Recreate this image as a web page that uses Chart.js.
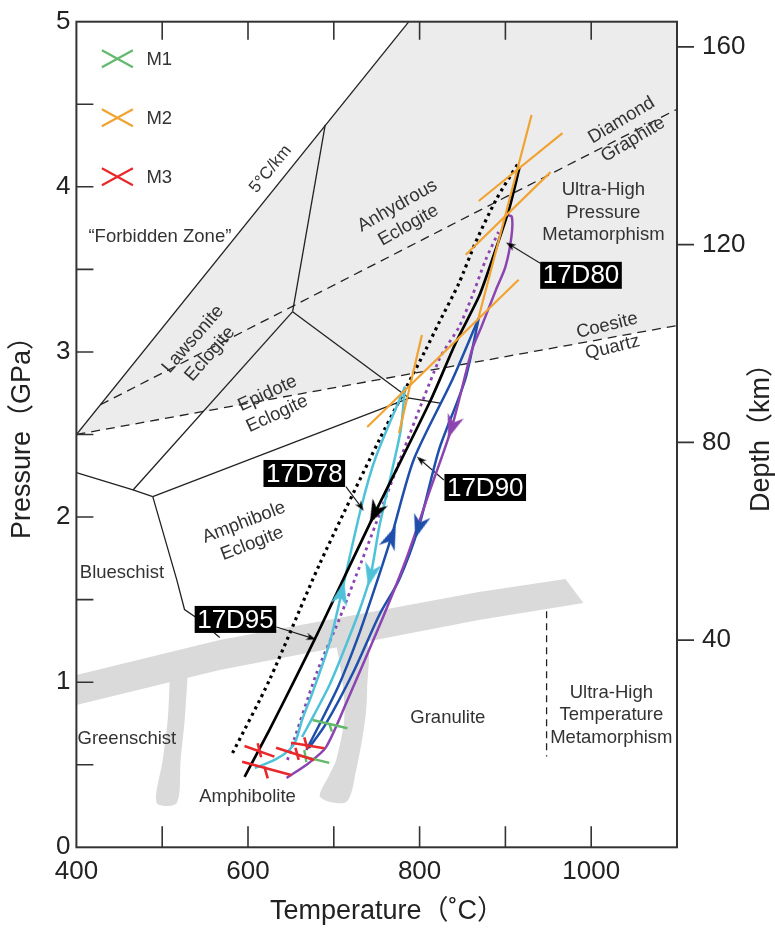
<!DOCTYPE html>
<html>
<head>
<meta charset="utf-8">
<script src="https://cdn.jsdelivr.net/npm/chart.js@4.4.1/dist/chart.umd.min.js"></script>
<style>
  html, body { margin: 0; padding: 0; background: #fff; }
  #wrap { width: 775px; height: 930px; }
</style>
</head>
<body>
<div id="wrap"><canvas id="ptChart"></canvas></div>
<script>
// ---- axes ----
const tempTicks = [400, 500, 600, 700, 800, 900, 1000, 1100];
const tempLabels = [400, 600, 800, 1000];
const pressTicks = [0, 0.5, 1, 1.5, 2, 2.5, 3, 3.5, 4, 4.5, 5];
const depthTicks = [40, 80, 120, 160];

// ---- facies grid, points are [T °C, P GPa] ----
const uhpField = [[400, 2.5], [787.5, 5], [1100, 5], [1100, 3.16]];
const grayBand = [[400, 1.044], [567, 1.256], [869, 1.546], [970, 1.625], [991, 1.48], [869, 1.377], [567, 1.074], [400, 0.862]];
const leftStem = [[509, 1.04], [506.4, 0.771], [500.6, 0.529], [493.6, 0.268], [516.9, 0.268], [521.5, 0.529], [526.2, 0.771], [529.7, 1.04]];
const rightStem = [[702.8, 1.225], [737.7, 1.256], [738.9, 0.953], [736.5, 0.771], [726.1, 0.468], [714.5, 0.274], [684.2, 0.305], [694.7, 0.438], [702.8, 0.529], [712.1, 0.771], [711, 0.953], [706.3, 1.134]];

const fivePerKm = [[400, 2.5], [787.5, 5]];
const diamondGraphite = [[428, 2.68], [1100, 4.47]];
const coesiteQuartz = [[400, 2.5], [1100, 3.16]];
const uhtBoundary = [[948, 1.43], [948, 0.55]];
const faciesLines = [
  [[690, 4.375], [652, 3.244]],
  [[652, 3.244], [466, 2.164]],
  [[400, 2.269], [466, 2.164], [489, 2.124]],
  [[489, 2.124], [788, 2.72]],
  [[652, 3.244], [788, 2.72]],
  [[788, 2.72], [824, 2.69]],
  [[489, 2.124], [517, 1.62], [526, 1.44], [540, 1.39], [567, 1.27]],
];

// ---- P-T paths ----
const blackPath = [[596, 0.426], [625, 0.711], [656, 1.031], [683, 1.316], [748, 2.025], [813, 2.709], [842, 3.054], [869, 3.334], [880.5, 3.497], [904, 3.86], [916.6, 4.12]];
const blackDotted = [[582, 0.571], [625, 1.013], [683, 1.71], [753, 2.467], [807, 3.012], [822.5, 3.176], [846, 3.418], [865, 3.661], [889, 3.92], [915, 4.144]];
const purplePath = [[645, 0.42], [671, 0.511], [691, 0.607], [714.5, 0.874], [756, 1.377], [784, 1.74], [811, 2.146], [837.6, 2.545], [861, 3.012], [872, 3.152], [889, 3.376], [900, 3.515], [907, 3.697], [907.5, 3.818], [901.5, 3.83]];
const purpleDotted = [[646, 0.529], [680, 1.056], [706, 1.377], [733, 1.74], [822.5, 2.951], [846, 3.152], [861, 3.334], [877, 3.558], [892, 3.727]];
const bluePro = [[668, 0.589], [683, 0.741], [706, 0.983], [727, 1.256], [747, 1.558], [767, 1.879], [793, 2.346], [838, 2.83], [869, 3.206]];
const blueRetro = [[869, 3.206], [853, 2.83], [822.5, 2.406], [799, 1.94], [776, 1.619], [753, 1.407], [724, 1.074], [690, 0.741], [671, 0.601]];
const cyanPro = [[608, 0.48], [631, 0.529], [648, 0.589], [656, 0.65], [663, 0.771], [675, 0.934], [695, 1.237], [709, 1.54], [732, 2.061], [749, 2.364], [783, 2.79]];
const cyanRetro = [[783, 2.79], [778, 2.527], [768, 2.285], [753, 1.94], [743, 1.649], [730, 1.437], [712, 1.195], [695, 0.983], [677, 0.802], [663, 0.668]];

// arrow heads on the paths
const arrowT = [748, 837.6, 767, 799, 709, 743];
const arrowP = [2.025, 2.545, 1.879, 1.94, 1.54, 1.649];

// metamorphic stage estimates (each entry one stroke)
const m1Lines = [
  [[675.3, 0.771], [715.9, 0.721]], [[694.7, 0.751], [697.8, 0.7]],
  [[657.5, 0.559], [694.7, 0.511]], [[665.6, 0.589], [668, 0.517]],
];
const m2Lines = [
  [[930.5, 4.435], [868.9, 3.212]],
  [[868.9, 3.914], [966.5, 4.325]],
  [[853.8, 3.589], [952.6, 4.089]],
  [[738.9, 2.545], [915.4, 3.437]],
  [[802.7, 3.103], [776, 2.509]],
];
const m3Lines = [
  [[595.9, 0.614], [630.8, 0.549]], [[611.3, 0.63], [615.3, 0.545]],
  [[593.2, 0.518], [650.2, 0.438]], [[619.1, 0.488], [623, 0.418]],
  [[650.2, 0.633], [688.9, 0.6]], [[665.6, 0.666], [669.5, 0.593]],
  [[632.7, 0.603], [677.2, 0.529]], [[655.3, 0.603], [659.1, 0.529]],
];

// sample labels
const sampleNames = ['17D80', '17D78', '17D90', '17D95'];
const sampleT = [988.1, 665.6, 876.5, 585.4];
const sampleP = [3.464, 2.264, 2.179, 1.38];
const leaderFrom = [[940.6, 3.537], [714.1, 2.184], [828.3, 2.224], [633.1, 1.334]];
const leaderTo = [[905.8, 3.647], [731.5, 2.063], [801.2, 2.346], [673.7, 1.268]];

// field names
const faciesNames = ['\u201CForbidden Zone\u201D', 'Lawsonite\nEclogite', 'Epidote\nEclogite', 'Amphibole\nEclogite', 'Anhydrous\nEclogite',
  'Blueschist', 'Greenschist', 'Amphibolite', 'Granulite', 'Ultra-High\nPressure\nMetamorphism',
  'Ultra-High\nTemperature\nMetamorphism', 'Diamond\nGraphite', 'Coesite\nQuartz', '5\u00B0C/km'];
const faciesT = [497.3, 545.9, 628.4, 600, 780.6, 453.1, 458.8, 599.4, 832.9, 1014.2, 1023.5, 1042.1, 1021.7, 626.3];
const faciesP = [3.698, 3.032, 2.686, 1.903, 3.826, 1.661, 0.656, 0.305, 0.784, 3.844, 0.801, 4.344, 3.093, 4.107];

const legendNames = ['M1', 'M2', 'M3'];

// ---- styles ----
const FONT = "'Liberation Sans', Arial, 'Noto Sans CJK SC', sans-serif";
const C = {
  field: '#ececec', band: '#dadada', ink: '#222', text: '#333',
  orange: '#f1a332', green: '#62b96c', red: '#e8282a',
  cyan: '#4fc1d8', blue: '#1f4fab', purple: '#8c45b0',
};
const faciesAngle = [0, -49, -25, -21, -29.5, 0, 0, 0, 0, 0, 0, -31, -13.7, -51];
const faciesSize = [18.5, 18.5, 18.5, 18.5, 18.5, 18.5, 18.5, 18.5, 18.5, 18.5, 18.5, 18.5, 18.5, 17];
const arrowColor = ['#000', C.purple, C.blue, C.blue, C.cyan, C.cyan];
const arrowRot = [206, 199, 22, 197, 13, 193];
const leaderRot = [301, 146, 311, 107];
const legendColors = [C.green, C.orange, C.red];

const makeArrow = (color, w, h) => {
  const c = document.createElement('canvas');
  c.width = w; c.height = h;
  const g = c.getContext('2d');
  g.fillStyle = color;
  g.beginPath();
  g.moveTo(w / 2, 0);
  g.lineTo(w, h);
  g.lineTo(w / 2, h * 0.7);
  g.lineTo(0, h);
  g.closePath();
  g.fill();
  return c;
};

const toXY = (pts) => pts.map(([t, p]) => ({ x: t, y: p }));
const layers = [];
const addLine = (pts, style) => layers.push({
  data: toXY(pts), pointRadius: 0, fill: false, tension: 0,
  borderWidth: 1.3, borderColor: C.ink, ...style,
});
const addShape = (pts, color, tension) => layers.push({
  data: toXY(pts), pointRadius: 0, fill: 'shape', tension,
  borderWidth: 0, borderColor: 'rgba(0,0,0,0)', backgroundColor: color,
});

addShape(uhpField, C.field, 0);
addShape(grayBand, C.band, 0);
addShape(leftStem, C.band, 0.3);
addShape(rightStem, C.band, 0.3);

addLine(fivePerKm, {});
faciesLines.forEach((l) => addLine(l, {}));
addLine(diamondGraphite, { borderDash: [9, 6] });
addLine(coesiteQuartz, { borderDash: [9, 6] });
addLine(uhtBoundary, { borderDash: [7, 5] });

leaderFrom.forEach((from, i) => addLine([from, leaderTo[i]], { borderWidth: 1.2 }));

const pathStyle = { borderWidth: 2.5, tension: 0.25 };
addLine(blackDotted, { ...pathStyle, borderColor: '#000', borderWidth: 3.2, borderDash: [3, 4] });
addLine(purpleDotted, { ...pathStyle, borderColor: C.purple, borderWidth: 2.8, borderDash: [3, 4] });
addLine(cyanPro, { ...pathStyle, borderColor: C.cyan });
addLine(cyanRetro, { ...pathStyle, borderColor: C.cyan });
addLine(bluePro, { ...pathStyle, borderColor: C.blue });
addLine(blueRetro, { ...pathStyle, borderColor: C.blue });
addLine(purplePath, { ...pathStyle, borderColor: C.purple });
addLine(blackPath, { ...pathStyle, borderColor: '#000', borderWidth: 2.7 });

m2Lines.forEach((l) => addLine(l, { borderColor: C.orange, borderWidth: 2.2 }));
m1Lines.forEach((l) => addLine(l, { borderColor: C.green, borderWidth: 2.4 }));
m3Lines.forEach((l) => addLine(l, { borderColor: C.red, borderWidth: 2.6 }));

arrowT.forEach((t, i) => layers.push({
  data: [{ x: t, y: arrowP[i] }], showLine: false, pointRadius: 8,
  pointStyle: makeArrow(arrowColor[i], 17, 24), pointRotation: arrowRot[i],
}));
leaderTo.forEach((pt, i) => layers.push({
  data: toXY([pt]), showLine: false, pointRadius: 4,
  pointStyle: makeArrow('#000', 7, 10), pointRotation: leaderRot[i],
}));

const datasets = layers.map((d, i) => ({ ...d, order: layers.length - i }));

const drawBlock = (ctx, text, x, y, angle, size, lh) => {
  const lines = text.split('\n');
  ctx.save();
  ctx.translate(x, y);
  ctx.rotate(angle * Math.PI / 180);
  ctx.font = `${size}px ${FONT}`;
  ctx.textAlign = 'center';
  ctx.textBaseline = 'middle';
  lines.forEach((s, i) => ctx.fillText(s, 0, (i - (lines.length - 1) / 2) * lh));
  ctx.restore();
};

const annotations = {
  id: 'annotations',
  afterDatasetsDraw(chart) {
    const { ctx, scales: { x, y }, chartArea: a } = chart;
    ctx.save();
    ctx.beginPath();
    ctx.rect(a.left, a.top, a.right - a.left, a.bottom - a.top);
    ctx.clip();
    ctx.fillStyle = C.text;
    faciesNames.forEach((name, i) => {
      drawBlock(ctx, name, x.getPixelForValue(faciesT[i]), y.getPixelForValue(faciesP[i]), faciesAngle[i], faciesSize[i], 22.5);
    });

    // sample boxes
    ctx.font = `26px ${FONT}`;
    ctx.textAlign = 'center';
    ctx.textBaseline = 'middle';
    sampleNames.forEach((name, i) => {
      const cx = x.getPixelForValue(sampleT[i]);
      const cy = y.getPixelForValue(sampleP[i]);
      const w = ctx.measureText(name).width + 5;
      ctx.fillStyle = '#000';
      ctx.fillRect(cx - w / 2, cy - 13.5, w, 27);
      ctx.fillStyle = '#fff';
      ctx.fillText(name, cx, cy + 1);
    });

    // legend
    legendNames.forEach((name, i) => {
      const cx = a.left + 41;
      const cy = a.top + 37 + i * 59;
      ctx.strokeStyle = legendColors[i];
      ctx.lineWidth = 2.2;
      ctx.beginPath();
      ctx.moveTo(cx - 15.5, cy - 8.5); ctx.lineTo(cx + 15.5, cy + 8.5);
      ctx.moveTo(cx - 15.5, cy + 8.5); ctx.lineTo(cx + 15.5, cy - 8.5);
      ctx.stroke();
      ctx.fillStyle = C.text;
      ctx.font = `18.5px ${FONT}`;
      ctx.textAlign = 'left';
      ctx.fillText(name, cx + 29, cy + 1);
    });
    ctx.restore();
  },
  afterDraw(chart) {
    const { ctx, chartArea: a, scales } = chart;
    ctx.save();
    ctx.strokeStyle = '#333';
    ctx.lineWidth = 2;
    ctx.strokeRect(a.left, a.top, a.right - a.left, a.bottom - a.top);
    ctx.lineWidth = 1.6;
    ctx.beginPath();
    scales.x.ticks.forEach((t) => {
      if (t.value <= 400 || t.value >= 1100) return;
      const px = scales.x.getPixelForValue(t.value);
      ctx.moveTo(px, a.bottom); ctx.lineTo(px, a.bottom - 21);
      ctx.moveTo(px, a.top); ctx.lineTo(px, a.top + 18);
    });
    scales.y.ticks.forEach((t) => {
      if (t.value <= 0 || t.value >= 5) return;
      const py = scales.y.getPixelForValue(t.value);
      ctx.moveTo(a.left, py); ctx.lineTo(a.left + 17, py);
    });
    scales.depth.ticks.forEach((t) => {
      const py = scales.depth.getPixelForValue(t.value);
      ctx.moveTo(a.right, py); ctx.lineTo(a.right + 17, py);
    });
    ctx.stroke();

    // axis titles
    ctx.fillStyle = '#222';
    drawBlock(ctx, 'Temperature\uFF08\u02DAC\uFF09', 387, 912, 0, 27, 30);
    drawBlock(ctx, 'Pressure\uFF08GPa\uFF09', 22.5, 431, -90, 27, 30);
    drawBlock(ctx, 'Depth\uFF08km\uFF09', 761.5, 431, -90, 27, 30);
    ctx.restore();
  },
};

const tickFont = { family: FONT, size: 26 };
const noPad = (s) => { s.paddingTop = 0; s.paddingBottom = 0; s.paddingLeft = 0; s.paddingRight = 0; };

new Chart(document.getElementById('ptChart'), {
  type: 'line',
  data: { datasets },
  options: {
    responsive: true,
    maintainAspectRatio: false,
    devicePixelRatio: 1,
    animation: false,
    events: [],
    layout: { padding: { top: 21.7, left: 0, right: 0, bottom: 0 } },
    plugins: { legend: { display: false }, tooltip: { enabled: false } },
    scales: {
      x: {
        type: 'linear', position: 'bottom', min: 400, max: 1100,
        grid: { display: false, drawTicks: false }, border: { display: false },
        afterBuildTicks: (s) => { s.ticks = tempTicks.map((v) => ({ value: v })); },
        afterFit: (s) => { s.height = 82.7; noPad(s); },
        ticks: {
          autoSkip: false, maxRotation: 0, padding: 9, font: tickFont, color: '#222',
          callback: (v) => (tempLabels.includes(v) ? String(v) : ''),
        },
      },
      y: {
        type: 'linear', position: 'left', min: 0, max: 5,
        grid: { display: false, drawTicks: false }, border: { display: false },
        afterBuildTicks: (s) => { s.ticks = pressTicks.map((v) => ({ value: v })); },
        afterFit: (s) => { s.width = 76.4; noPad(s); },
        ticks: {
          autoSkip: false, padding: 6, font: tickFont, color: '#222',
          callback: (v) => (Number.isInteger(v) ? String(v) : ''),
        },
      },
      depth: {
        type: 'linear', position: 'right', min: -1.9, max: 165.1,
        grid: { display: false, drawTicks: false }, border: { display: false },
        afterBuildTicks: (s) => { s.ticks = depthTicks.map((v) => ({ value: v })); },
        afterFit: (s) => { s.width = 98; noPad(s); },
        ticks: { autoSkip: false, padding: 25, font: tickFont, color: '#222' },
      },
    },
  },
  plugins: [annotations],
});
</script>
</body>
</html>
